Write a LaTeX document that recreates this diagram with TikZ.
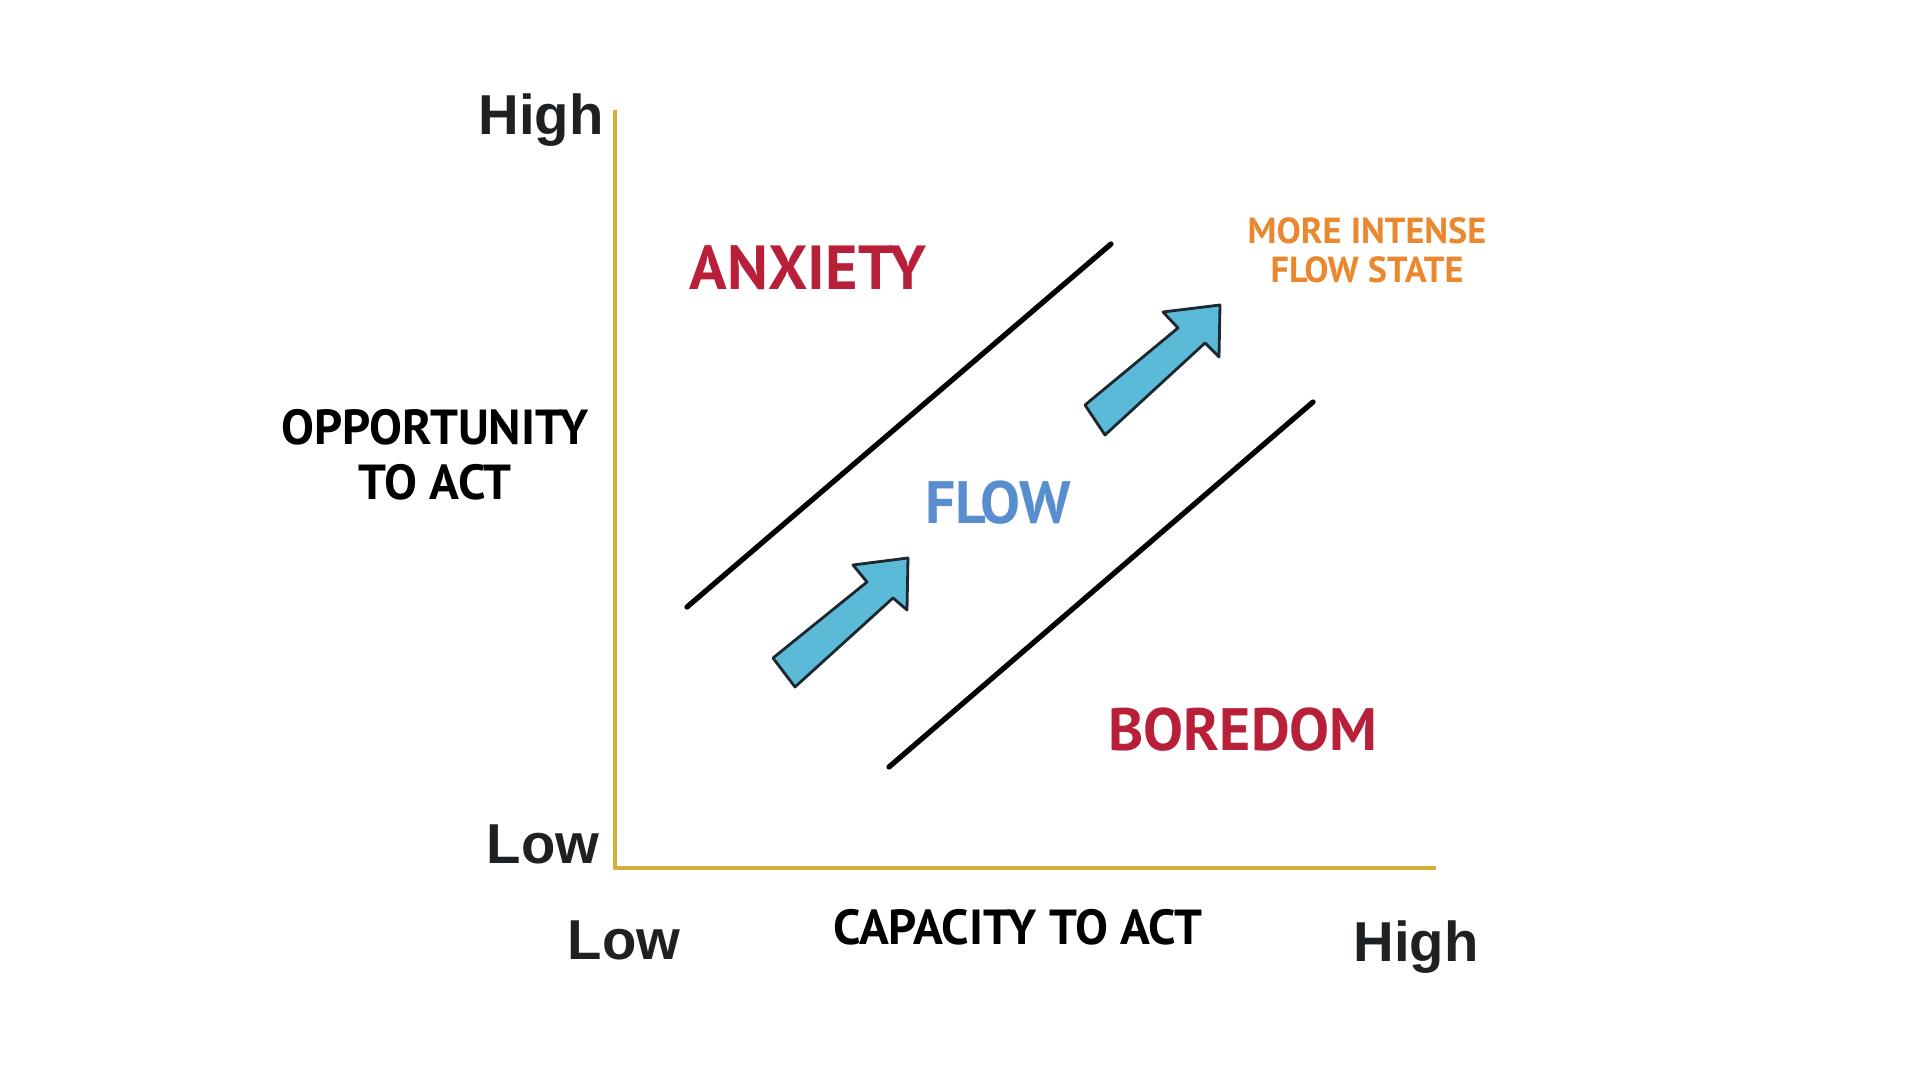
\documentclass[tikz,border=0pt]{standalone}
\usepackage{fontspec}
\setmainfont{Liberation Sans}
\newfontfamily\zonefont{PT Sans}
\usetikzlibrary{positioning}
\definecolor{axisgold}{RGB}{212,176,58}
\definecolor{levelgray}{RGB}{30,33,36}
\definecolor{anxred}{RGB}{183,32,56}
\definecolor{flowblue}{RGB}{88,142,205}
\definecolor{intenseorange}{RGB}{233,136,46}
\definecolor{arrowblue}{RGB}{90,186,216}
\definecolor{arrowedge}{RGB}{28,40,46}
\begin{document}
\begin{tikzpicture}[x=0.01cm,y=-0.01cm,thick,
    level/.style={font=\bfseries\fontsize{16}{18}\selectfont, text=levelgray, anchor=base, inner sep=0pt},
    axislabel/.style={font=\zonefont\bfseries\fontsize{14}{15.6}\selectfont, align=center, inner sep=0pt},
    zone/.style={font=\zonefont\bfseries\fontsize{#1}{#1}\selectfont, anchor=base, inner sep=0pt},
    axisline/.style={draw=axisgold, line width=1.4pt, line join=round},
    boundary/.style={line width=1.5pt, black, line cap=round},
    flowarrow/.style={fill=arrowblue, draw=arrowedge, line width=0.8pt, line join=round}]
    \useasboundingbox (0,0) rectangle (1920,1080);

    % axes
    \coordinate (ytop) at (615,110);
    \coordinate (origin) at (615,868);
    \coordinate (xend) at (1436,868);
    \draw[axisline] (ytop) -- (origin) -- (xend);

    \node (yhigh) [level] at (541,135) {High};
    \node (ylow) [level] at (543,864) {Low};
    \node (xlow) [level] at (624,960) {Low};
    \node (xhigh) [level] at (1416,962) {High};

    \node (ylabel) [axislabel] at (435,455) {OPPORTUNITY\\TO ACT};
    \node (xlabel) [zone=14, text=black] at (1018,945) {CAPACITY TO ACT};

    % channel boundaries
    \draw[boundary] (687,607) -- (1111,244);
    \draw[boundary] (889,767) -- (1313,402);

    % zones
    \node (anxiety) [zone=17.7, text=anxred] at (808,290) {ANXIETY};
    \node (flow) [zone=17, text=flowblue] at (998,524) {FLOW};
    \node (boredom) [zone=17, text=anxred] at (1243,751) {BOREDOM};
    \node (intense) [font=\zonefont\bfseries\fontsize{10.3}{11}\selectfont, align=center, inner sep=0pt, text=intenseorange] at (1367,250) {MORE INTENSE\\FLOW STATE};

    % progress arrows
    \draw[flowarrow] (773,658) -- (867,582) -- (853,565) -- (908,558) -- (907,610) -- (893,598) -- (795,687) -- cycle;
    \draw[flowarrow] (1085,405) -- (1178,328) -- (1163,312) -- (1220,305) -- (1219,357) -- (1205,343) -- (1105,435) -- cycle;
\end{tikzpicture}
\end{document}
